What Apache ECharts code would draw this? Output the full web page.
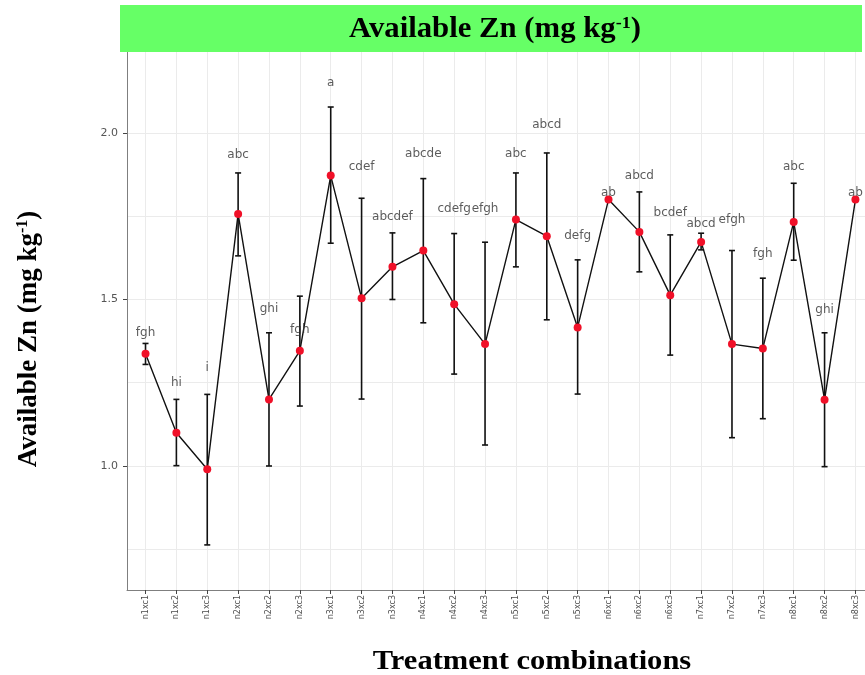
<!DOCTYPE html>
<html>
<head>
<meta charset="utf-8">
<script src="https://cdn.jsdelivr.net/npm/echarts@6/dist/echarts.min.js"></script>
<style>html,body{margin:0;padding:0;background:#fff}#c{width:865px;height:675px}</style>
</head>
<body>
<div id="c"></div>
<script>
const categories = ["n1xc1","n1xc2","n1xc3","n2xc1","n2xc2","n2xc3","n3xc1","n3xc2","n3xc3","n4xc1","n4xc2","n4xc3","n5xc1","n5xc2","n5xc3","n6xc1","n6xc2","n6xc3","n7xc1","n7xc2","n7xc3","n8xc1","n8xc2","n8xc3"];
const means  = [1.337,1.100,0.990,1.757,1.200,1.346,1.872,1.504,1.598,1.647,1.486,1.366,1.740,1.690,1.416,1.800,1.703,1.513,1.673,1.366,1.353,1.733,1.199,1.800];
const upper  = [1.368,1.200,1.215,1.880,1.400,1.510,2.078,1.804,1.700,1.863,1.698,1.672,1.880,1.940,1.619,null,1.823,1.694,1.699,1.647,1.564,1.849,1.400,null];
const lower  = [1.305,1.001,0.763,1.631,1.000,1.180,1.669,1.201,1.500,1.430,1.276,1.063,1.598,1.439,1.216,null,1.583,1.333,1.649,1.085,1.142,1.618,0.998,null];
const letters = ["fgh","hi","i","abc","ghi","fgh","a","cdef","abcdef","abcde","cdefg","efgh","abc","abcd","defg","ab","abcd","bcdef","abcd","efgh","fgh","abc","ghi","ab"];
const letterY = [1.399,1.249,1.294,1.934,1.471,1.408,2.150,1.899,1.747,1.936,1.771,1.772,1.936,2.024,1.690,1.821,1.872,1.759,1.727,1.739,1.637,1.898,1.468,1.821];
const yTicks = [1.0,1.5,2.0];
const yGrid = [0.75,1.0,1.25,1.5,1.75,2.0];

const chart = echarts.init(document.getElementById('c'), null, {renderer:'canvas'});
const idx = categories.map((c,i)=>i);
const gridLines = idx.map(i=>({xAxis:i})).concat(yGrid.map(v=>({yAxis:v})));
const serif = 'Liberation Serif';

const option = {
  animation:false,
  backgroundColor:'#fff',
  grid:{left:127,right:0,top:52,bottom:85},
  xAxis:{type:'value',min:-0.6,max:23.31,
    axisLine:{show:true,onZero:false,lineStyle:{color:'#7f7f7f',width:1}},
    axisTick:{show:true,customValues:idx,length:4,lineStyle:{color:'#444'}},
    axisLabel:{customValues:idx,rotate:90,formatter:v=>categories[Math.round(v)],color:'#4d4d4d',fontSize:8,fontFamily:'DejaVu Sans',margin:5},
    splitLine:{show:false}},
  yAxis:{type:'value',min:0.6276,max:2.2432,
    axisLine:{show:true,onZero:false,lineStyle:{color:'#7f7f7f',width:1}},
    axisTick:{show:true,customValues:yTicks,length:4,lineStyle:{color:'#444'}},
    axisLabel:{customValues:yTicks,formatter:v=>v.toFixed(1),color:'#555',fontSize:11,fontFamily:'DejaVu Sans',margin:9},
    splitLine:{show:false}},
  graphic:[
    {type:'rect',shape:{x:120,y:5,width:742,height:47},style:{fill:'#66ff66'},z:10},
    {type:'text',x:495,y:30,scaleX:1.06,z:11,style:{text:'{m|Available Zn (mg kg}{s|-1}{m|)}',align:'center',verticalAlign:'middle',
      rich:{m:{fontFamily:serif,fontWeight:'bold',fontSize:29,fill:'#000'},
            s:{fontFamily:serif,fontWeight:'bold',fontSize:17,fill:'#000',padding:[0,0,13,0]}}}},
    {type:'text',x:29,y:339,rotation:Math.PI/2,z:11,style:{text:'{m|Available Zn (mg kg}{s|-1}{m|)}',align:'center',verticalAlign:'middle',
      rich:{m:{fontFamily:serif,fontWeight:'bold',fontSize:27,fill:'#000'},
            s:{fontFamily:serif,fontWeight:'bold',fontSize:16,fill:'#000',padding:[0,0,12,0]}}}},
    {type:'text',x:532,y:662,scaleX:1.09,z:11,style:{text:'Treatment combinations',align:'center',verticalAlign:'middle',
      fontFamily:serif,fontWeight:'bold',fontSize:28,fill:'#000'}}
  ],
  series:[
    {type:'line',data:[],silent:true,z:0,
      markLine:{silent:true,z:0,symbol:'none',label:{show:false},animation:false,
        lineStyle:{color:'#ebebeb',width:1,type:'solid'},data:gridLines}},
    {type:'custom',z:2,
      data:idx.map(i=>[i,lower[i],upper[i]]),
      renderItem:function(params,api){
        const i=api.value(0); const lo=lower[i], hi=upper[i];
        if(lo==null||hi==null) return null;
        const a=api.coord([i,hi]), b=api.coord([i,lo]); const w=3;
        const st={stroke:'#111',lineWidth:1.6};
        return {type:'group',children:[
          {type:'line',shape:{x1:a[0],y1:a[1],x2:b[0],y2:b[1]},style:st},
          {type:'line',shape:{x1:a[0]-w,y1:a[1],x2:a[0]+w,y2:a[1]},style:st},
          {type:'line',shape:{x1:b[0]-w,y1:b[1],x2:b[0]+w,y2:b[1]},style:st}
        ]};
      }},
    {type:'line',z:3,data:idx.map(i=>[i,means[i]]),
      lineStyle:{color:'#111',width:1.4},
      symbol:'circle',symbolSize:8,itemStyle:{color:'#f01028',borderWidth:0}},
    {type:'scatter',z:4,symbolSize:0,data:idx.map(i=>[i,letterY[i]]),
      label:{show:true,position:'inside',formatter:p=>letters[p.dataIndex],color:'#333',fontSize:12,fontFamily:'DejaVu Sans'}}
  ]
};
chart.setOption(option);
</script>
</body>
</html>
